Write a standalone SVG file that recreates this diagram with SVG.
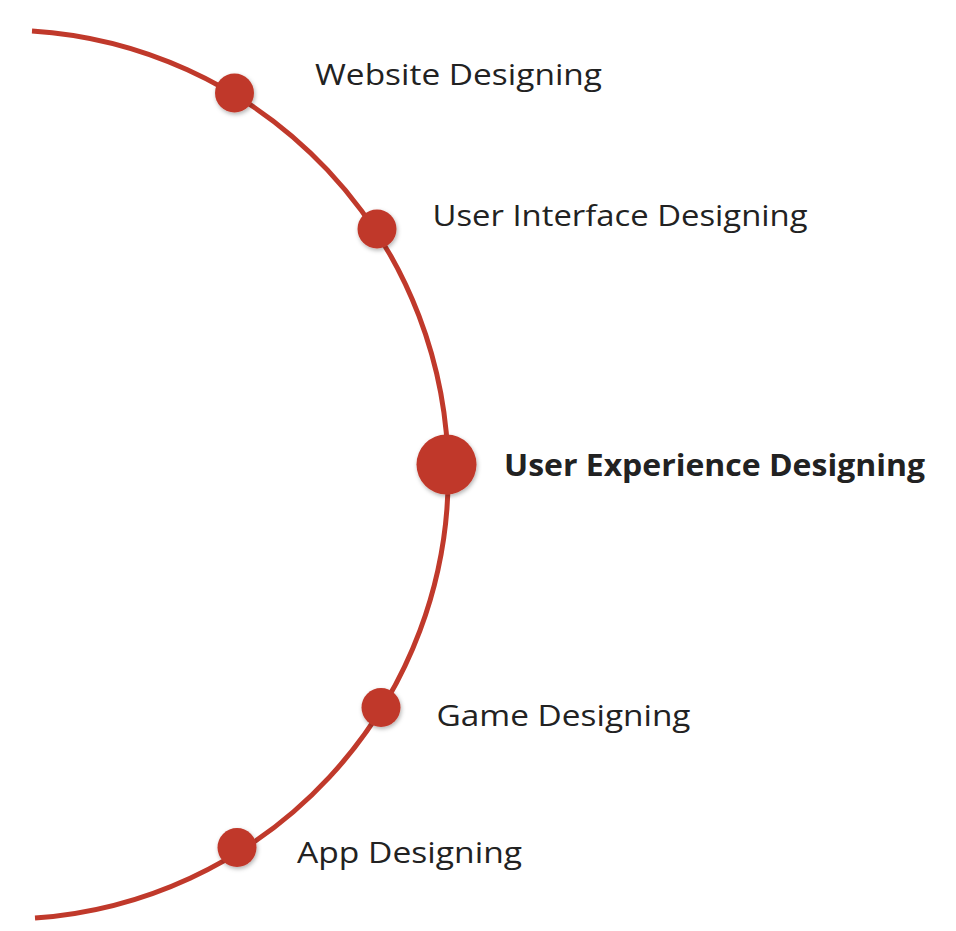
<svg xmlns="http://www.w3.org/2000/svg" width="956" height="931" viewBox="0 0 956 931">
<defs>
<filter id="sh" x="-50%" y="-50%" width="200%" height="200%">
<feDropShadow dx="1" dy="2" stdDeviation="2" flood-color="#000" flood-opacity="0.3"/>
</filter>
<style>
.arc{fill:none;stroke:#c0392b;stroke-width:5;}
.dot{fill:#c0392b;filter:url(#sh);}
.lbl{font-family:"Open Sans","Liberation Sans",sans-serif;font-size:29px;fill:#222222;}
.bold{font-weight:bold;font-size:30px;}
</style>
</defs>
<rect width="956" height="931" fill="#ffffff"/>
<g id="connectors">
<path class="arc" d="M32,31 A444.5,444.5 0 0 1 35,918"/>
</g>
<g id="node-website">
<circle class="dot" cx="234.5" cy="93" r="19.5"/>
<text class="lbl" x="315" y="85" textLength="287" lengthAdjust="spacingAndGlyphs">Website Designing</text>
</g>
<g id="node-ui">
<circle class="dot" cx="377" cy="229" r="19.5"/>
<text class="lbl" x="432.5" y="226" textLength="375" lengthAdjust="spacingAndGlyphs">User Interface Designing</text>
</g>
<g id="node-ux">
<circle class="dot" cx="446.5" cy="464.5" r="30"/>
<text class="lbl bold" x="504" y="476" textLength="421" lengthAdjust="spacingAndGlyphs">User Experience Designing</text>
</g>
<g id="node-game">
<circle class="dot" cx="381" cy="707.5" r="19.5"/>
<text class="lbl" x="436.5" y="726" textLength="254" lengthAdjust="spacingAndGlyphs">Game Designing</text>
</g>
<g id="node-app">
<circle class="dot" cx="237" cy="847.5" r="19.5"/>
<text class="lbl" x="297" y="863" textLength="225" lengthAdjust="spacingAndGlyphs">App Designing</text>
</g>
</svg>
